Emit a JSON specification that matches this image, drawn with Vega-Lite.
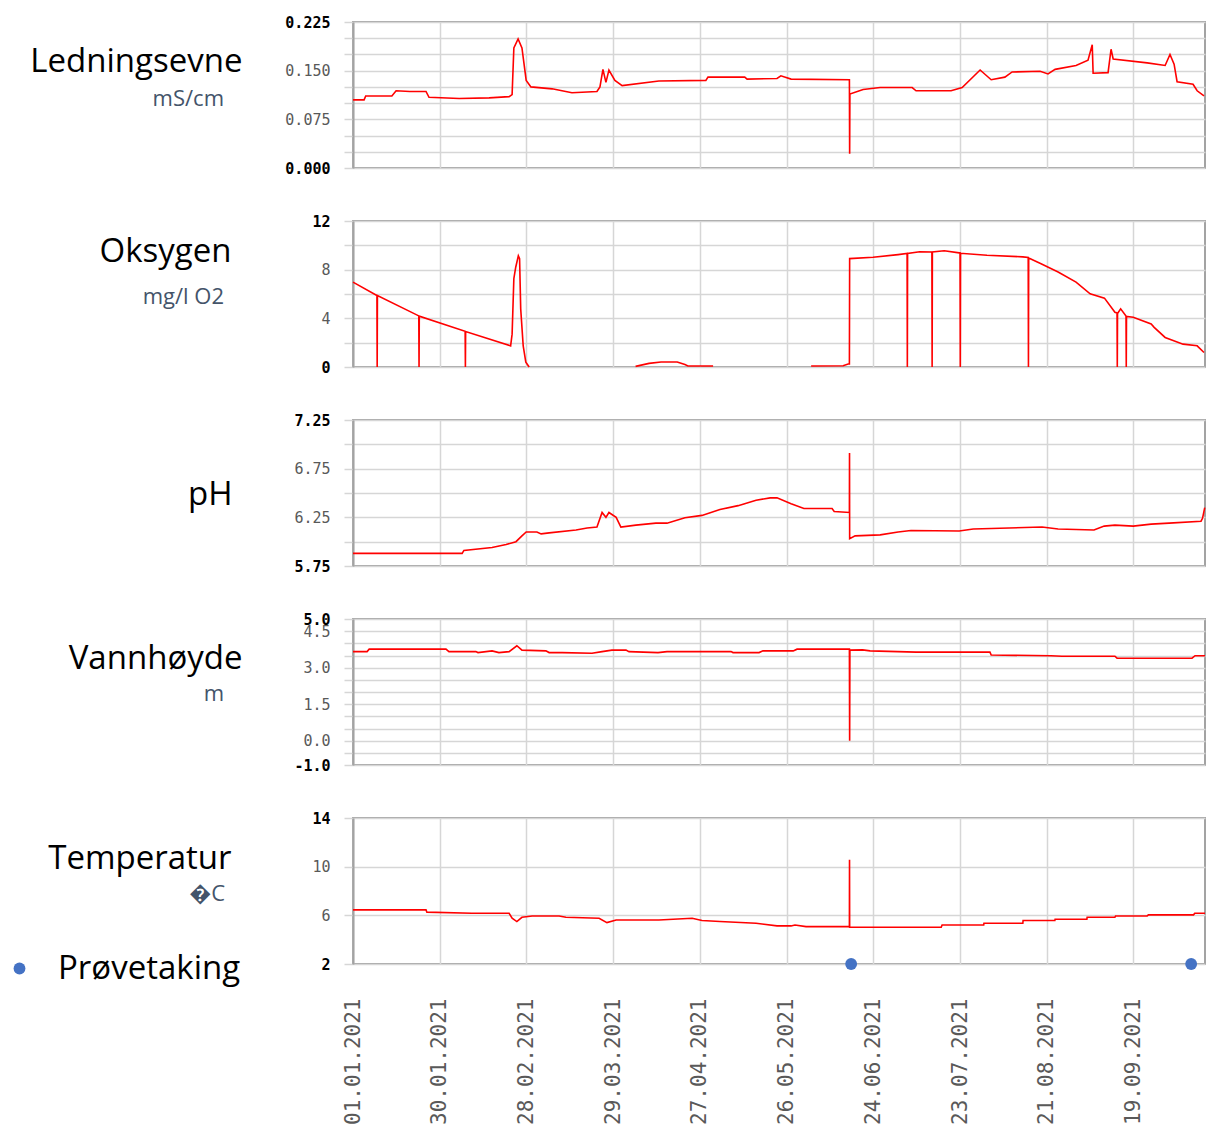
{
  "$schema": "https://vega.github.io/schema/vega-lite/v6.json",
  "background": "white",
  "padding": {"left": 2, "top": 14, "right": 0, "bottom": 0},
  "spacing": 36,
  "config": {
    "view": {"stroke": "#a3a3a3", "strokeWidth": 2},
    "axis": {"gridColor": "#d6d6d6", "gridWidth": 1.5, "gridOpacity": 1, "tickColor": "#d6d6d6", "tickWidth": 1.5, "domainColor": "#a3a3a3", "domainWidth": 2, "labelFont": "DejaVu Sans Mono", "labelColor": "#595959", "titleFont": "Open Sans", "titleFontWeight": "normal", "titleColor": "#000000", "titleFontSize": 33, "labelOverlap": false, "labelFlush": false},
    "axisY": {"tickSize": 9, "labelPadding": 14, "labelFontSize": 15, "titleAngle": 0, "titleAlign": "right", "titleBaseline": "middle", "grid": true},
    "title": {"font": "Open Sans", "fontSize": 22, "fontWeight": "normal", "color": "#44546A", "anchor": "start", "frame": "group", "align": "right", "baseline": "middle", "offset": 0, "orient": "top"},
    "line": {"color": "#ff0000", "strokeWidth": 1.6}
  },
  "datasets": {
    "cond": [
      {"t":"2021-01-01T00:00","v":0.105},{"t":"2021-01-04T17:00","v":0.105},{"t":"2021-01-05T06:00","v":0.111},{"t":"2021-01-14T00:00","v":0.111},{"t":"2021-01-15T10:00","v":0.119},{"t":"2021-01-20T00:00","v":0.118},{"t":"2021-01-25T10:00","v":0.118},{"t":"2021-01-26T10:00","v":0.109},{"t":"2021-02-05T12:00","v":0.107},{"t":"2021-02-15T12:00","v":0.108},{"t":"2021-02-22T05:00","v":0.110},{"t":"2021-02-23T05:00","v":0.113},{"t":"2021-02-23T19:00","v":0.185},{"t":"2021-02-25T05:00","v":0.199},{"t":"2021-02-26T12:00","v":0.185},{"t":"2021-02-27T22:00","v":0.135},{"t":"2021-03-01T12:00","v":0.125},{"t":"2021-03-08T14:00","v":0.122},{"t":"2021-03-15T05:00","v":0.116},{"t":"2021-03-23T14:00","v":0.118},{"t":"2021-03-24T14:00","v":0.125},{"t":"2021-03-25T14:00","v":0.152},{"t":"2021-03-26T14:00","v":0.132},{"t":"2021-03-27T14:00","v":0.151},{"t":"2021-03-29T14:00","v":0.135},{"t":"2021-04-01T00:00","v":0.127},{"t":"2021-04-13T07:00","v":0.134},{"t":"2021-04-29T00:00","v":0.135},{"t":"2021-04-29T17:00","v":0.140},{"t":"2021-05-12T00:00","v":0.140},{"t":"2021-05-12T19:00","v":0.137},{"t":"2021-05-22T19:00","v":0.138},{"t":"2021-05-24T02:00","v":0.142},{"t":"2021-05-27T12:00","v":0.137},{"t":"2021-06-16T00:00","v":0.136},{"t":"2021-06-16T02:00","v":0.022},{"t":"2021-06-16T04:00","v":0.114},{"t":"2021-06-20T14:00","v":0.121},{"t":"2021-06-26T07:00","v":0.124},{"t":"2021-07-07T00:00","v":0.124},{"t":"2021-07-08T07:00","v":0.119},{"t":"2021-07-20T00:00","v":0.119},{"t":"2021-07-23T17:00","v":0.124},{"t":"2021-07-29T17:00","v":0.151},{"t":"2021-08-02T10:00","v":0.136},{"t":"2021-08-07T00:00","v":0.140},{"t":"2021-08-09T10:00","v":0.148},{"t":"2021-08-18T19:00","v":0.149},{"t":"2021-08-21T10:00","v":0.145},{"t":"2021-08-23T19:00","v":0.152},{"t":"2021-08-30T19:00","v":0.158},{"t":"2021-09-03T19:00","v":0.166},{"t":"2021-09-05T05:00","v":0.190},{"t":"2021-09-05T12:00","v":0.146},{"t":"2021-09-10T12:00","v":0.147},{"t":"2021-09-11T12:00","v":0.183},{"t":"2021-09-12T05:00","v":0.168},{"t":"2021-09-23T14:00","v":0.162},{"t":"2021-09-29T14:00","v":0.158},{"t":"2021-10-01T05:00","v":0.175},{"t":"2021-10-02T14:00","v":0.160},{"t":"2021-10-03T14:00","v":0.133},{"t":"2021-10-08T22:00","v":0.129},{"t":"2021-10-10T07:00","v":0.119},{"t":"2021-10-12T14:00","v":0.111}
    ],
    "oxy": [
      {"t":"2021-01-01T00:00","v":6.98,"seg":1},{"t":"2021-01-09T00:00","v":5.88,"seg":1},{"t":"2021-01-09T02:00","v":0,"seg":1},{"t":"2021-01-09T04:00","v":5.87,"seg":1},{"t":"2021-01-23T00:00","v":4.2,"seg":1},{"t":"2021-01-23T02:00","v":0,"seg":1},{"t":"2021-01-23T04:00","v":4.18,"seg":1},{"t":"2021-02-07T12:00","v":2.93,"seg":1},{"t":"2021-02-07T14:00","v":0,"seg":1},{"t":"2021-02-07T16:00","v":2.92,"seg":1},{"t":"2021-02-22T17:00","v":1.74,"seg":1},{"t":"2021-02-23T05:00","v":2.7,"seg":1},{"t":"2021-02-23T19:00","v":7.26,"seg":1},{"t":"2021-02-24T10:00","v":8.2,"seg":1},{"t":"2021-02-25T07:00","v":9.14,"seg":1},{"t":"2021-02-25T17:00","v":8.9,"seg":1},{"t":"2021-02-26T02:00","v":4.78,"seg":1},{"t":"2021-02-26T22:00","v":1.74,"seg":1},{"t":"2021-02-27T19:00","v":0.4,"seg":1},{"t":"2021-02-28T22:00","v":0,"seg":1},
      {"t":"2021-04-05T12:00","v":0.05,"seg":2},{"t":"2021-04-10T00:00","v":0.3,"seg":2},{"t":"2021-04-14T00:00","v":0.41,"seg":2},{"t":"2021-04-19T10:00","v":0.41,"seg":2},{"t":"2021-04-22T00:00","v":0.2,"seg":2},{"t":"2021-04-23T00:00","v":0.08,"seg":2},{"t":"2021-05-01T10:00","v":0.08,"seg":2},
      {"t":"2021-06-03T05:00","v":0.08,"seg":3},{"t":"2021-06-13T22:00","v":0.1,"seg":3},{"t":"2021-06-15T14:00","v":0.25,"seg":3},{"t":"2021-06-16T00:00","v":0.25,"seg":3},{"t":"2021-06-16T02:00","v":8.91,"seg":3},{"t":"2021-06-23T22:00","v":9.02,"seg":3},{"t":"2021-07-02T07:00","v":9.24,"seg":3},{"t":"2021-07-05T07:00","v":9.33,"seg":3},{"t":"2021-07-05T09:00","v":0,"seg":3},{"t":"2021-07-05T11:00","v":9.33,"seg":3},{"t":"2021-07-09T12:00","v":9.47,"seg":3},{"t":"2021-07-13T14:00","v":9.45,"seg":3},{"t":"2021-07-13T16:00","v":0,"seg":3},{"t":"2021-07-13T18:00","v":9.45,"seg":3},{"t":"2021-07-17T17:00","v":9.55,"seg":3},{"t":"2021-07-22T17:00","v":9.38,"seg":3},{"t":"2021-07-23T00:00","v":9.38,"seg":3},{"t":"2021-07-23T02:00","v":0,"seg":3},{"t":"2021-07-23T04:00","v":9.35,"seg":3},{"t":"2021-08-01T00:00","v":9.19,"seg":3},{"t":"2021-08-13T00:00","v":9.05,"seg":3},{"t":"2021-08-14T19:00","v":9.0,"seg":3},{"t":"2021-08-14T21:00","v":0,"seg":3},{"t":"2021-08-14T23:00","v":8.95,"seg":3},{"t":"2021-08-18T22:00","v":8.5,"seg":3},{"t":"2021-08-24T19:00","v":7.81,"seg":3},{"t":"2021-08-30T19:00","v":6.98,"seg":3},{"t":"2021-09-04T12:00","v":6.02,"seg":3},{"t":"2021-09-09T07:00","v":5.66,"seg":3},{"t":"2021-09-12T19:00","v":4.5,"seg":3},{"t":"2021-09-13T12:00","v":4.45,"seg":3},{"t":"2021-09-13T14:00","v":0,"seg":3},{"t":"2021-09-13T16:00","v":4.4,"seg":3},{"t":"2021-09-14T17:00","v":4.78,"seg":3},{"t":"2021-09-16T12:00","v":4.2,"seg":3},{"t":"2021-09-16T14:00","v":0,"seg":3},{"t":"2021-09-16T16:00","v":4.15,"seg":3},{"t":"2021-09-18T22:00","v":4.09,"seg":3},{"t":"2021-09-24T22:00","v":3.53,"seg":3},{"t":"2021-09-25T22:00","v":3.26,"seg":3},{"t":"2021-09-29T14:00","v":2.43,"seg":3},{"t":"2021-10-05T14:00","v":1.88,"seg":3},{"t":"2021-10-10T07:00","v":1.74,"seg":3},{"t":"2021-10-12T14:00","v":1.19,"seg":3}
    ],
    "ph": [
      {"t":"2021-01-01T00:00","v":5.88},{"t":"2021-02-06T12:00","v":5.88},{"t":"2021-02-07T02:00","v":5.91},{"t":"2021-02-16T12:00","v":5.94},{"t":"2021-02-21T05:00","v":5.97},{"t":"2021-02-24T12:00","v":6.0},{"t":"2021-02-26T12:00","v":6.06},{"t":"2021-02-27T22:00","v":6.10},{"t":"2021-03-03T12:00","v":6.10},{"t":"2021-03-04T22:00","v":6.08},{"t":"2021-03-07T14:00","v":6.09},{"t":"2021-03-16T14:00","v":6.12},{"t":"2021-03-20T07:00","v":6.14},{"t":"2021-03-23T14:00","v":6.15},{"t":"2021-03-25T07:00","v":6.30},{"t":"2021-03-26T14:00","v":6.25},{"t":"2021-03-27T14:00","v":6.30},{"t":"2021-03-30T00:00","v":6.25},{"t":"2021-03-31T14:00","v":6.15},{"t":"2021-04-05T14:00","v":6.17},{"t":"2021-04-12T07:00","v":6.19},{"t":"2021-04-16T00:00","v":6.19},{"t":"2021-04-22T00:00","v":6.245},{"t":"2021-04-27T17:00","v":6.27},{"t":"2021-05-03T17:00","v":6.33},{"t":"2021-05-09T19:00","v":6.37},{"t":"2021-05-15T19:00","v":6.425},{"t":"2021-05-20T12:00","v":6.45},{"t":"2021-05-22T19:00","v":6.45},{"t":"2021-05-27T12:00","v":6.39},{"t":"2021-05-31T19:00","v":6.34},{"t":"2021-06-10T05:00","v":6.34},{"t":"2021-06-10T22:00","v":6.31},{"t":"2021-06-16T00:00","v":6.30},{"t":"2021-06-16T01:00","v":6.91},{"t":"2021-06-16T02:00","v":6.03},{"t":"2021-06-17T22:00","v":6.06},{"t":"2021-06-26T07:00","v":6.07},{"t":"2021-07-02T07:00","v":6.10},{"t":"2021-07-06T14:00","v":6.115},{"t":"2021-07-22T17:00","v":6.11},{"t":"2021-07-27T10:00","v":6.13},{"t":"2021-08-19T10:00","v":6.15},{"t":"2021-08-24T19:00","v":6.13},{"t":"2021-09-05T19:00","v":6.12},{"t":"2021-09-09T05:00","v":6.16},{"t":"2021-09-12T19:00","v":6.17},{"t":"2021-09-18T22:00","v":6.16},{"t":"2021-09-24T22:00","v":6.18},{"t":"2021-09-30T22:00","v":6.19},{"t":"2021-10-11T14:00","v":6.21},{"t":"2021-10-12T02:00","v":6.24},{"t":"2021-10-12T20:00","v":6.35}
    ],
    "lvl": [
      {"t":"2021-01-01T00:00","v":3.66},{"t":"2021-01-05T17:00","v":3.66},{"t":"2021-01-06T10:00","v":3.76},{"t":"2021-02-01T02:00","v":3.76},{"t":"2021-02-02T02:00","v":3.66},{"t":"2021-02-11T02:00","v":3.66},{"t":"2021-02-11T19:00","v":3.62},{"t":"2021-02-16T12:00","v":3.69},{"t":"2021-02-18T19:00","v":3.62},{"t":"2021-02-22T05:00","v":3.66},{"t":"2021-02-24T19:00","v":3.90},{"t":"2021-02-26T12:00","v":3.72},{"t":"2021-03-06T12:00","v":3.69},{"t":"2021-03-07T14:00","v":3.62},{"t":"2021-03-11T22:00","v":3.62},{"t":"2021-03-21T22:00","v":3.59},{"t":"2021-03-25T07:00","v":3.66},{"t":"2021-03-28T14:00","v":3.72},{"t":"2021-04-02T07:00","v":3.72},{"t":"2021-04-03T07:00","v":3.66},{"t":"2021-04-13T00:00","v":3.62},{"t":"2021-04-16T00:00","v":3.66},{"t":"2021-05-07T10:00","v":3.66},{"t":"2021-05-08T02:00","v":3.62},{"t":"2021-05-16T19:00","v":3.62},{"t":"2021-05-18T02:00","v":3.69},{"t":"2021-05-28T05:00","v":3.69},{"t":"2021-05-29T12:00","v":3.76},{"t":"2021-06-16T00:00","v":3.76},{"t":"2021-06-16T02:00","v":0.0},{"t":"2021-06-16T04:00","v":3.72},{"t":"2021-06-20T10:00","v":3.73},{"t":"2021-06-22T22:00","v":3.69},{"t":"2021-07-08T07:00","v":3.64},{"t":"2021-08-02T00:00","v":3.64},{"t":"2021-08-02T10:00","v":3.52},{"t":"2021-08-22T10:00","v":3.49},{"t":"2021-08-26T02:00","v":3.47},{"t":"2021-09-12T19:00","v":3.47},{"t":"2021-09-13T12:00","v":3.39},{"t":"2021-10-08T14:00","v":3.39},{"t":"2021-10-09T14:00","v":3.49},{"t":"2021-10-12T22:00","v":3.49}
    ],
    "temp": [
      {"t":"2021-01-01T00:00","v":6.45},{"t":"2021-01-25T10:00","v":6.45},{"t":"2021-01-25T17:00","v":6.26},{"t":"2021-02-09T19:00","v":6.17},{"t":"2021-02-22T05:00","v":6.17},{"t":"2021-02-23T05:00","v":5.76},{"t":"2021-02-24T19:00","v":5.49},{"t":"2021-02-26T12:00","v":5.84},{"t":"2021-03-01T22:00","v":5.95},{"t":"2021-03-10T22:00","v":5.95},{"t":"2021-03-13T05:00","v":5.84},{"t":"2021-03-24T07:00","v":5.76},{"t":"2021-03-26T22:00","v":5.40},{"t":"2021-03-30T00:00","v":5.62},{"t":"2021-04-13T07:00","v":5.62},{"t":"2021-04-24T10:00","v":5.76},{"t":"2021-04-27T17:00","v":5.57},{"t":"2021-05-03T17:00","v":5.49},{"t":"2021-05-15T19:00","v":5.35},{"t":"2021-05-22T19:00","v":5.13},{"t":"2021-05-27T12:00","v":5.13},{"t":"2021-05-28T19:00","v":5.21},{"t":"2021-06-01T12:00","v":5.07},{"t":"2021-06-16T00:00","v":5.07},{"t":"2021-06-16T01:00","v":10.57},{"t":"2021-06-16T02:00","v":5.02},{"t":"2021-07-16T17:00","v":5.02},{"t":"2021-07-17T00:00","v":5.21},{"t":"2021-07-30T22:00","v":5.21},{"t":"2021-07-31T00:00","v":5.35},{"t":"2021-08-13T00:00","v":5.35},{"t":"2021-08-13T02:00","v":5.57},{"t":"2021-08-23T17:00","v":5.57},{"t":"2021-08-23T19:00","v":5.68},{"t":"2021-09-03T10:00","v":5.68},{"t":"2021-09-03T12:00","v":5.84},{"t":"2021-09-12T19:00","v":5.84},{"t":"2021-09-13T00:00","v":5.95},{"t":"2021-09-23T14:00","v":5.95},{"t":"2021-09-24T00:00","v":6.04},{"t":"2021-10-09T02:00","v":6.04},{"t":"2021-10-09T12:00","v":6.17},{"t":"2021-10-12T22:00","v":6.17}
    ],
    "samples": [
      {"t":"2021-06-16T14:00","v":2},{"t":"2021-10-08T07:00","v":2}
    ]
  },
  "vconcat": [
    {
      "width": 852, "height": 146,
      "data": {"name": "cond"},
      "title": {"text": "mS/cm", "dx": -129, "dy": 110, "align": "right", "baseline": "middle", "anchor": "start", "frame": "group"},
      "mark": {"type": "line"},
      "encoding": {
        "x": {"field": "t", "type": "temporal",
          "scale": {"domain": [{"year":2021,"month":1,"date":1},{"year":2021,"month":10,"date":12,"hours":22}]},
          "axis": {"values": [{"year":2021,"month":1,"date":1},{"year":2021,"month":1,"date":30},{"year":2021,"month":2,"date":28},{"year":2021,"month":3,"date":29},{"year":2021,"month":4,"date":27},{"year":2021,"month":5,"date":26},{"year":2021,"month":6,"date":24},{"year":2021,"month":7,"date":23},{"year":2021,"month":8,"date":21},{"year":2021,"month":9,"date":19}], "labels": false, "ticks": false, "domain": false, "grid": true, "title": null}},
        "y": {"field": "v", "type": "quantitative",
          "scale": {"domain": [0, 0.225], "nice": false, "zero": false},
          "axis": {"values": [0,0.025,0.05,0.075,0.1,0.125,0.15,0.175,0.2,0.225],
            "labelExpr": "indexof([0,3,6,9], round(datum.value/0.025)) >= 0 ? format(datum.value, '.3f') : ''",
            "labelFontWeight": {"condition": {"test": "datum.value < 0.001 || datum.value > 0.224", "value": "bold"}, "value": "normal"},
            "labelColor": {"condition": {"test": "datum.value < 0.001 || datum.value > 0.224", "value": "#000000"}, "value": "#595959"},
            "title": "Ledningsevne", "titleX": -111, "titleY": 39}}
      }
    },
    {
      "width": 852, "height": 146,
      "data": {"name": "oxy"},
      "title": {"text": "mg/l O2", "dx": -129, "dy": 109, "align": "right", "baseline": "middle", "anchor": "start", "frame": "group"},
      "mark": {"type": "line"},
      "encoding": {
        "x": {"field": "t", "type": "temporal",
          "scale": {"domain": [{"year":2021,"month":1,"date":1},{"year":2021,"month":10,"date":12,"hours":22}]},
          "axis": {"values": [{"year":2021,"month":1,"date":1},{"year":2021,"month":1,"date":30},{"year":2021,"month":2,"date":28},{"year":2021,"month":3,"date":29},{"year":2021,"month":4,"date":27},{"year":2021,"month":5,"date":26},{"year":2021,"month":6,"date":24},{"year":2021,"month":7,"date":23},{"year":2021,"month":8,"date":21},{"year":2021,"month":9,"date":19}], "labels": false, "ticks": false, "domain": false, "grid": true, "title": null}},
        "y": {"field": "v", "type": "quantitative",
          "scale": {"domain": [0, 12], "nice": false, "zero": false},
          "axis": {"values": [0,2,4,6,8,10,12],
            "labelExpr": "datum.value % 4 == 0 ? format(datum.value, 'd') : ''",
            "labelFontWeight": {"condition": {"test": "datum.value == 0 || datum.value == 12", "value": "bold"}, "value": "normal"},
            "labelColor": {"condition": {"test": "datum.value == 0 || datum.value == 12", "value": "#000000"}, "value": "#595959"},
            "title": "Oksygen", "titleX": -122, "titleY": 30}},
        "detail": {"field": "seg", "type": "nominal"}
      }
    },
    {
      "width": 852, "height": 146,
      "data": {"name": "ph"},
      "mark": {"type": "line"},
      "encoding": {
        "x": {"field": "t", "type": "temporal",
          "scale": {"domain": [{"year":2021,"month":1,"date":1},{"year":2021,"month":10,"date":12,"hours":22}]},
          "axis": {"values": [{"year":2021,"month":1,"date":1},{"year":2021,"month":1,"date":30},{"year":2021,"month":2,"date":28},{"year":2021,"month":3,"date":29},{"year":2021,"month":4,"date":27},{"year":2021,"month":5,"date":26},{"year":2021,"month":6,"date":24},{"year":2021,"month":7,"date":23},{"year":2021,"month":8,"date":21},{"year":2021,"month":9,"date":19}], "labels": false, "ticks": false, "domain": false, "grid": true, "title": null}},
        "y": {"field": "v", "type": "quantitative",
          "scale": {"domain": [5.75, 7.25], "nice": false, "zero": false},
          "axis": {"values": [5.75,6,6.25,6.5,6.75,7,7.25],
            "labelExpr": "round((datum.value-5.75)*4) % 2 == 0 ? format(datum.value, '.2f') : ''",
            "labelFontWeight": {"condition": {"test": "datum.value < 5.76 || datum.value > 7.24", "value": "bold"}, "value": "normal"},
            "labelColor": {"condition": {"test": "datum.value < 5.76 || datum.value > 7.24", "value": "#000000"}, "value": "#595959"},
            "title": "pH", "titleX": -121, "titleY": 74}}
      }
    },
    {
      "width": 852, "height": 146,
      "data": {"name": "lvl"},
      "title": {"text": "m", "dx": -129, "dy": 108, "align": "right", "baseline": "middle", "anchor": "start", "frame": "group"},
      "mark": {"type": "line"},
      "encoding": {
        "x": {"field": "t", "type": "temporal",
          "scale": {"domain": [{"year":2021,"month":1,"date":1},{"year":2021,"month":10,"date":12,"hours":22}]},
          "axis": {"values": [{"year":2021,"month":1,"date":1},{"year":2021,"month":1,"date":30},{"year":2021,"month":2,"date":28},{"year":2021,"month":3,"date":29},{"year":2021,"month":4,"date":27},{"year":2021,"month":5,"date":26},{"year":2021,"month":6,"date":24},{"year":2021,"month":7,"date":23},{"year":2021,"month":8,"date":21},{"year":2021,"month":9,"date":19}], "labels": false, "ticks": false, "domain": false, "grid": true, "title": null}},
        "y": {"field": "v", "type": "quantitative",
          "scale": {"domain": [-1, 5], "nice": false, "zero": false},
          "axis": {"values": [-1,-0.5,0,0.5,1,1.5,2,2.5,3,3.5,4,4.5,5],
            "labelExpr": "indexof([-2,0,3,6,9,10], round(datum.value*2)) >= 0 ? replace(format(datum.value, '.1f'), '\u2212', '-') : ''",
            "labelFontWeight": {"condition": {"test": "datum.value == -1 || datum.value == 5", "value": "bold"}, "value": "normal"},
            "labelColor": {"condition": {"test": "datum.value == -1 || datum.value == 5", "value": "#000000"}, "value": "#595959"},
            "title": "Vannhøyde", "titleX": -111, "titleY": 39}}
      }
    },
    {
      "width": 852, "height": 146,
      "title": {"text": "\uFFFDC", "dx": -128, "dy": 109, "align": "right", "baseline": "middle", "anchor": "start", "frame": "group"},
      "layer": [
        {
          "data": {"name": "temp"},
          "mark": {"type": "line"},
          "encoding": {
            "x": {"field": "t", "type": "temporal",
              "scale": {"domain": [{"year":2021,"month":1,"date":1},{"year":2021,"month":10,"date":12,"hours":22}]},
              "axis": {"values": [{"year":2021,"month":1,"date":1},{"year":2021,"month":1,"date":30},{"year":2021,"month":2,"date":28},{"year":2021,"month":3,"date":29},{"year":2021,"month":4,"date":27},{"year":2021,"month":5,"date":26},{"year":2021,"month":6,"date":24},{"year":2021,"month":7,"date":23},{"year":2021,"month":8,"date":21},{"year":2021,"month":9,"date":19}],
                "format": "%d.%m.%Y", "labelAngle": -90, "labelAlign": "right", "labelBaseline": "middle", "labelFont": "DejaVu Sans Mono", "labelFontSize": 21, "labelColor": "#595959", "labelPadding": 34, "ticks": false, "tickSize": 0, "domain": false, "grid": true, "title": null}},
            "y": {"field": "v", "type": "quantitative",
              "scale": {"domain": [2, 14], "nice": false, "zero": false},
              "axis": {"values": [2,4,6,8,10,12,14],
                "labelExpr": "(datum.value - 2) % 4 == 0 ? format(datum.value, 'd') : ''",
                "labelFontWeight": {"condition": {"test": "datum.value == 2 || datum.value == 14", "value": "bold"}, "value": "normal"},
                "labelColor": {"condition": {"test": "datum.value == 2 || datum.value == 14", "value": "#000000"}, "value": "#595959"},
                "title": "Temperatur", "titleX": -122, "titleY": 40}}
          }
        },
        {
          "data": {"name": "samples"},
          "mark": {"type": "point", "filled": true, "size": 140, "opacity": 1, "clip": false},
          "encoding": {
            "x": {"field": "t", "type": "temporal"},
            "y": {"field": "v", "type": "quantitative", "scale": {"domain": [2, 14], "nice": false, "zero": false}},
            "color": {"datum": "Prøvetaking", "type": "nominal", "scale": {"range": ["#4472C4"]},
              "legend": {"title": null, "orient": "none", "legendX": -350, "legendY": 134, "padding": 0, "labelFont": "Open Sans", "labelFontSize": 33, "labelColor": "#000000", "labelLimit": 400, "symbolType": "circle", "symbolSize": 140, "labelOffset": 22}}
          }
        }
      ]
    }
  ],
  "resolve": {"scale": {"color": "independent"}, "legend": {"color": "independent"}}
}
